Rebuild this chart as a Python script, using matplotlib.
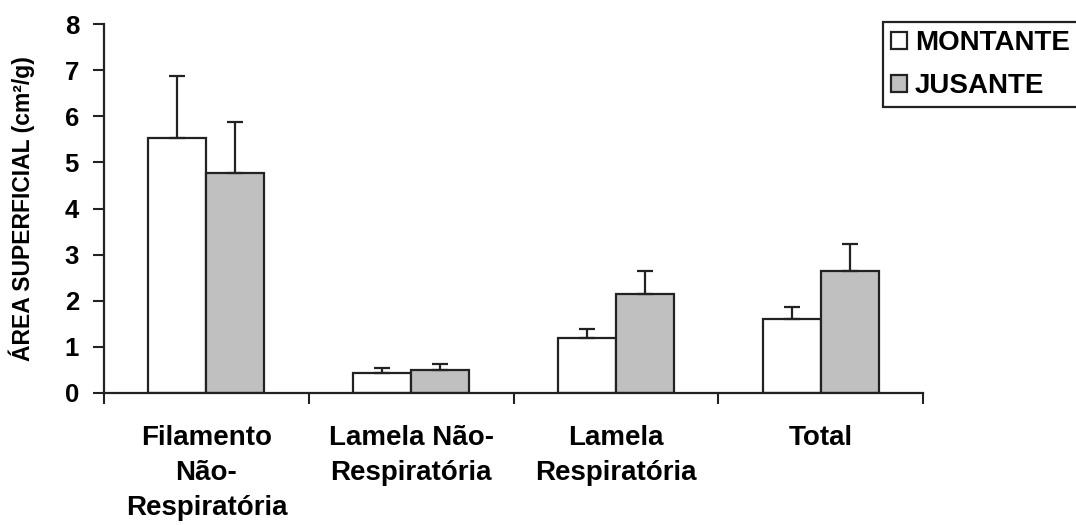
import matplotlib.pyplot as plt
import numpy as np

# superficie por grupo de estrutura
categorias = ["Filamento\nNão-\nRespiratória", "Lamela Não-\nRespiratória",
              "Lamela\nRespiratória", "Total"]
montante = [5.52, 0.43, 1.19, 1.61]
montante_erro = [1.36, 0.11, 0.20, 0.26]
jusante = [4.76, 0.49, 2.15, 2.65]
jusante_erro = [1.11, 0.13, 0.50, 0.58]

plt.rcParams['font.family'] = ['Liberation Sans', 'DejaVu Sans']
plt.rcParams['font.weight'] = 'bold'

fig = plt.figure(figsize=(10.76, 5.25), dpi=100)
ax = fig.add_axes([104/1076, 132/525, (923-104)/1076, (393-24)/525])

x = np.arange(len(categorias))
w = 0.283
ek = dict(ecolor='#222222', elinewidth=1.6, capsize=6, capthick=1.6)
ax.bar(x - w/2, montante, w, yerr=[np.zeros(4), montante_erro], color='white',
       edgecolor='#222222', linewidth=1.6, error_kw=ek, label='MONTANTE')
ax.bar(x + w/2, jusante, w, yerr=[np.zeros(4), jusante_erro], color='#c0c0c0',
       edgecolor='#222222', linewidth=1.6, error_kw=ek, label='JUSANTE')

ax.set_xlim(-0.5, len(categorias) - 0.5)
ax.set_ylim(0, 8)
ax.set_yticks(range(9))
ax.set_xticks(x)
ax.set_xticklabels(categorias, fontsize=20, fontweight='bold', linespacing=1.45)
ax.set_xticks(np.arange(-0.5, len(categorias)), minor=True)
ax.tick_params(axis='x', which='major', length=0, pad=23)
ax.tick_params(axis='x', which='minor', length=8, width=1.5, color='#222222')
ax.tick_params(axis='y', length=8, width=1.5, color='#222222', labelsize=18.5, pad=10)
for t in ax.get_yticklabels():
    t.set_fontweight('bold')

for s in ['top', 'right']:
    ax.spines[s].set_visible(False)
for s in ['left', 'bottom']:
    ax.spines[s].set_linewidth(1.6)
    ax.spines[s].set_color('#222222')

ax.set_ylabel("ÁREA SUPERFICIAL (cm²/g)", fontsize=16.5, fontweight='bold', labelpad=21)

leg = fig.legend(loc='upper left', bbox_to_anchor=(883/1076, 1 - 22/525),
                 fontsize=20, handlelength=0.55, handleheight=0.55, handletextpad=0.3,
                 borderpad=0.3, labelspacing=0.6, fancybox=False, framealpha=1,
                 edgecolor='#222222', borderaxespad=0)
leg.get_frame().set_linewidth(1.6)
for t in leg.get_texts():
    t.set_fontweight('bold')

fig.savefig('out.png', dpi=100)
